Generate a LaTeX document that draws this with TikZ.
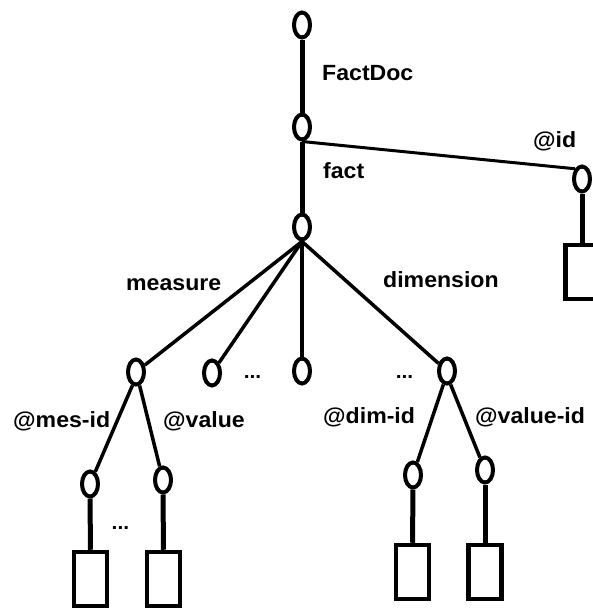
\documentclass[tikz,border=0pt]{standalone}
\usepackage{fontspec}
\newfontfamily\lbl[FakeStretch=1.05]{Liberation Sans}
\usetikzlibrary{shapes.geometric}
\tikzset{
  oval/.style={ellipse,draw,line width=4pt,minimum width=16pt,minimum height=25pt,inner sep=0pt},
  leaf/.style={rectangle,draw,line width=4.5pt,minimum width=33pt,minimum height=54pt,inner sep=0pt},
  lab/.style={anchor=base west,inner sep=0pt,font=\lbl\bfseries\fontsize{22}{26}\selectfont},
  dots/.style={anchor=base,inner sep=0pt,font=\lbl\bfseries\fontsize{20}{24}\selectfont},
  spine/.style={line width=5pt},
  branch/.style={line width=3.5pt},
  thin/.style={line width=3pt}
}
\begin{document}
\begin{tikzpicture}[x=1pt,y=-1pt]
\useasboundingbox (0,0) rectangle (592,608);
% ellipses
\node[oval] (root) at (302,25) {};
\node[oval] (fd) at (302,127) {};
\node[oval] (fact) at (302,227) {};
\node[oval] (id) at (582,179) {};
\node[oval] (m) at (136,372) {};
\node[oval] (e2) at (212,373) {};
\node[oval] (e3) at (302,371) {};
\node[oval] (dim) at (447,371) {};
\node[oval] (mi) at (90,484) {};
\node[oval] (mv) at (163,480) {};
\node[oval] (di) at (413,475) {};
\node[oval] (dv) at (485,470) {};
% leaves
\node[leaf] (idr) at (582,272) {};
\node[leaf] (mir) at (90.5,579) {};
\node[leaf] (mvr) at (163.5,579) {};
\node[leaf] (dir) at (412.5,572) {};
\node[leaf] (dvr) at (485,572) {};
% connectors
\draw[spine] (root.south) -- (fd.north);
\draw[spine] (fd.south) -- (fact.north);
\draw[thin] (fd.south) -- (id.north west);
\draw[spine] (id.south) -- (idr.north);
\draw[branch] (fact.south) -- (m);
\draw[branch] (fact.south) -- (e2);
\draw[branch] (fact.south) -- (e3.north);
\draw[branch] (fact.south) -- (dim);
\draw[branch] (m.-105) -- (mi);
\draw[branch] (m.-75) -- (mv);
\draw[branch] (dim.-105) -- (di);
\draw[branch] (dim.-75) -- (dv);
\draw[spine] (mi.south) -- (mir.north);
\draw[spine] (mv.south) -- (mvr.north);
\draw[spine] (di.south) -- (dir.north);
\draw[spine] (dv.south) -- (dvr.north);
% labels
\node[lab] (tFactDoc) at (322,80) {FactDoc};
\node[lab] (tfact) at (323,178) {fact};
\node[lab] (tid) at (533,147) {@id};
\node[lab] (tdim) at (383,287) {dimension};
\node[lab] (tmeas) at (126,290) {measure};
\node[lab] (tmesid) at (13,427) {@mes-id};
\node[lab] (tvalue) at (163,427) {@value};
\node[lab] (tdimid) at (323,423) {@dim-id};
\node[lab] (tvalueid) at (475,423) {@value-id};
\node[dots] (d1) at (252.5,378) {...};
\node[dots] (d2) at (404.5,378) {...};
\node[dots] (d3) at (120.5,529) {...};
\end{tikzpicture}
\end{document}
